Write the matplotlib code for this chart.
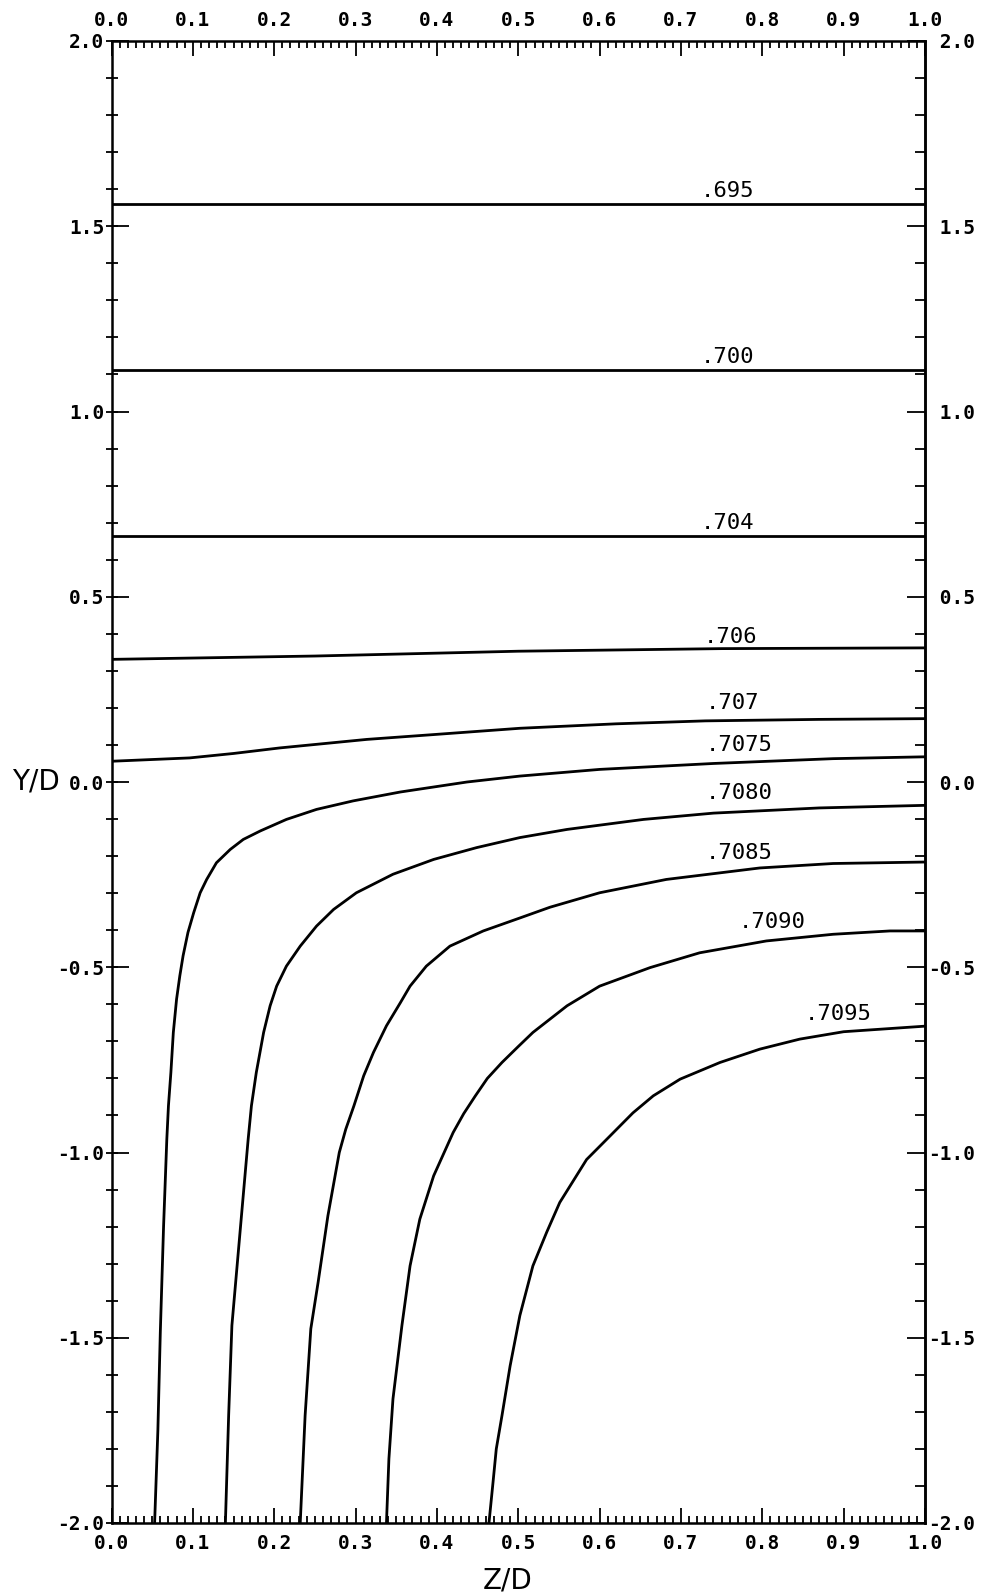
import numpy as np
import matplotlib
matplotlib.use("Agg")
import matplotlib.pyplot as plt

# tick positions / labels
x_ticks = [0.0, 0.1, 0.2, 0.3, 0.4, 0.5, 0.6, 0.7, 0.8, 0.9, 1.0]
x_tick_labels = ["0.0", "0.1", "0.2", "0.3", "0.4", "0.5", "0.6", "0.7", "0.8", "0.9", "1.0"]
x_minor_ticks = [i / 100 for i in range(101)]
y_ticks = [2.0, 1.5, 1.0, 0.5, 0.0, -0.5, -1.0, -1.5, -2.0]
y_left_labels = ["2.0", "1.5", "1.0", "0.5", "0.0", "-0.5", "-1.0", "-1.5", "-2.0"]
y_right_labels = [" 2.0", " 1.5", " 1.0", " 0.5", " 0.0", "-0.5", "-1.0", "-1.5", "-2.0"]
y_minor_ticks = [i / 10 for i in range(-20, 21)]

# contour lines (Z/D, Y/D)
c695_z = [0.0, 1.0]
c695_y = [1.56, 1.56]
c700_z = [0.0, 1.0]
c700_y = [1.112, 1.112]
c704_z = [0.0, 1.0]
c704_y = [0.664, 0.664]
c706_z = [0.0, 0.25, 0.5, 0.75, 1.0]
c706_y = [0.331, 0.340, 0.353, 0.360, 0.362]
c707_z = [0.0, 0.096, 0.15, 0.207, 0.314, 0.396, 0.502, 0.62, 0.73, 0.87, 1.0]
c707_y = [0.056, 0.065, 0.077, 0.092, 0.115, 0.128, 0.145, 0.157, 0.165, 0.169, 0.171]
c7075_z = [1.0, 0.887, 0.740, 0.600, 0.502, 0.437, 0.355, 0.297, 0.252, 0.215, 0.183,
           0.162, 0.146, 0.129, 0.117, 0.109, 0.101, 0.094, 0.088, 0.084, 0.080, 0.076,
           0.073, 0.070, 0.068, 0.064, 0.060, 0.057, 0.053]
c7075_y = [0.068, 0.063, 0.050, 0.034, 0.016, 0.000, -0.027, -0.051, -0.074, -0.101, -0.132,
           -0.155, -0.182, -0.218, -0.263, -0.299, -0.353, -0.406, -0.469, -0.523, -0.586, -0.676,
           -0.784, -0.874, -0.964, -1.200, -1.485, -1.750, -2.0]
c7080_z = [1.0, 0.870, 0.740, 0.654, 0.560, 0.502, 0.449, 0.396, 0.346, 0.301, 0.273,
           0.252, 0.232, 0.215, 0.203, 0.195, 0.187, 0.178, 0.172, 0.168, 0.158,
           0.148, 0.144, 0.140]
c7080_y = [-0.063, -0.070, -0.084, -0.101, -0.128, -0.150, -0.177, -0.209, -0.249, -0.299, -0.344,
           -0.389, -0.443, -0.497, -0.551, -0.604, -0.676, -0.784, -0.874, -0.964, -1.215,
           -1.467, -1.710, -2.0]
c7085_z = [1.0, 0.887, 0.797, 0.682, 0.600, 0.539, 0.502, 0.457, 0.416, 0.387, 0.367,
           0.355, 0.338, 0.322, 0.310, 0.298, 0.288, 0.280, 0.266, 0.254, 0.245, 0.238, 0.232]
c7085_y = [-0.216, -0.220, -0.232, -0.263, -0.299, -0.338, -0.367, -0.402, -0.443, -0.497, -0.551,
           -0.596, -0.658, -0.730, -0.793, -0.874, -0.937, -1.0, -1.171, -1.350, -1.476, -1.710, -2.0]
c7090_z = [1.0, 0.957, 0.887, 0.805, 0.723, 0.662, 0.600, 0.560, 0.518, 0.500, 0.480,
           0.462, 0.447, 0.433, 0.420, 0.396, 0.379, 0.367, 0.357, 0.346, 0.341, 0.338]
c7090_y = [-0.402, -0.402, -0.411, -0.429, -0.461, -0.501, -0.551, -0.604, -0.676, -0.714, -0.757,
           -0.800, -0.848, -0.895, -0.946, -1.063, -1.180, -1.306, -1.467, -1.665, -1.827, -2.0]
c7095_z = [1.0, 0.900, 0.846, 0.797, 0.748, 0.699, 0.666, 0.641, 0.613, 0.584, 0.551,
           0.535, 0.518, 0.502, 0.490, 0.480, 0.473, 0.469, 0.464]
c7095_y = [-0.659, -0.674, -0.694, -0.721, -0.757, -0.802, -0.847, -0.893, -0.955, -1.019, -1.135,
           -1.215, -1.306, -1.440, -1.576, -1.710, -1.800, -1.890, -2.0]

contours = [
    (c695_z, c695_y), (c700_z, c700_y), (c704_z, c704_y), (c706_z, c706_y),
    (c707_z, c707_y), (c7075_z, c7075_y), (c7080_z, c7080_y), (c7085_z, c7085_y),
    (c7090_z, c7090_y), (c7095_z, c7095_y),
]

label_text = [".695", ".700", ".704", ".706", ".707", ".7075", ".7080", ".7085", ".7090", ".7095"]
label_z = [0.724, 0.724, 0.724, 0.728, 0.730, 0.730, 0.731, 0.731, 0.771, 0.852]
label_y = [1.580, 1.131, 0.683, 0.375, 0.196, 0.083, -0.047, -0.208, -0.393, -0.642]

mono = "DejaVu Sans Mono"

fig = plt.figure(figsize=(9.82, 15.94), dpi=100)
ax = fig.add_axes([111.5 / 982, 71 / 1594, 813.5 / 982, 1482 / 1594])

for z, y in contours:
    ax.plot(z, y, color="black", lw=2.0, solid_capstyle="butt", solid_joinstyle="round")

for txt, z, y in zip(label_text, label_z, label_y):
    ax.text(z, y, txt, fontsize=16, family=mono, ha="left", va="baseline", color="black")

ax.set_xlim(0, 1)
ax.set_ylim(-2, 2)

for s in ax.spines.values():
    s.set_linewidth(1.8)

# x axis: labels top and bottom, ticks inward
ax.set_xticks(x_ticks)
ax.set_xticklabels(x_tick_labels, fontweight="bold")
ax.set_xticks(x_minor_ticks, minor=True)
ax.tick_params(axis="x", which="both", direction="in", top=True, bottom=True,
               labeltop=True, labelbottom=True, width=1.3, pad=8,
               labelsize=14, labelfontfamily=mono)
ax.tick_params(axis="x", which="major", length=11)
ax.tick_params(axis="x", which="minor", length=5)
for t in ax.get_xticklabels(which="major"):
    t.set_fontweight("bold")

# left y axis: crossing ticks every 0.1, longer inward ticks at 0.5
ax.yaxis.remove_overlapping_locs = False
ax.set_yticks(y_ticks)
ax.set_yticklabels(y_left_labels, fontweight="bold")
ax.set_yticks(y_minor_ticks, minor=True)
ax.tick_params(axis="y", which="both", left=True, right=False, width=1.3,
               labelsize=14, labelfontfamily=mono)
ax.tick_params(axis="y", which="major", direction="in", length=12, pad=5)
ax.tick_params(axis="y", which="minor", direction="inout", length=8)

# right y axis
sec = ax.secondary_yaxis("right")
sec.set_yticks(y_ticks)
sec.set_yticklabels(y_right_labels, fontweight="bold")
sec.set_yticks(y_minor_ticks, minor=True)
sec.spines["right"].set_linewidth(1.8)
sec.tick_params(axis="y", which="both", direction="in", width=1.3,
                labelsize=14, labelfontfamily=mono)
sec.tick_params(axis="y", which="major", length=13, pad=2)
sec.tick_params(axis="y", which="minor", length=7)

ax.set_xlabel("Z/D", fontsize=20)
ax.xaxis.label.set_va("center")
ax.xaxis.set_label_coords(0.487, -0.0385)
ax.set_ylabel("Y/D", fontsize=20, rotation=0, ha="left", va="center")
ax.yaxis.set_label_coords(-0.122, 0.5)

fig.savefig("out.png", dpi=100, facecolor="white")
